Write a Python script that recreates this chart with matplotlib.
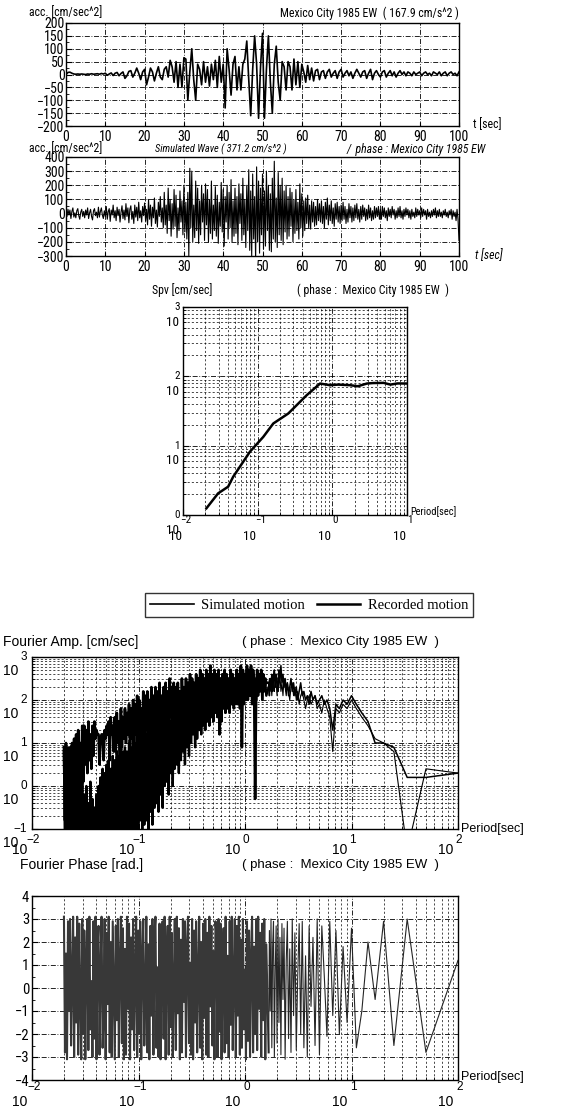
import numpy as np
import matplotlib
matplotlib.use("Agg")
import matplotlib.pyplot as plt
from matplotlib import font_manager as fm
from matplotlib.lines import Line2D
from matplotlib.ticker import LogLocator, NullFormatter, MultipleLocator

# ------------------------------------------------------------------ data
# recorded acceleration, Mexico City 1985 EW  (sampled every 0.5 s, cm/s^2)
acc_recorded = [
    0, 8, 9, 5, 2, 1, 2, 1, 2, 1,
    0, 2, 1, 3, 1, 2, 3, 1, 4, 2,
    5, -3, 2, 6, -4, 5, 8, -5, 4, 10,
    -15, -5, 12, 15, -10, 5, 25, 5, -20, 10,
    20, -40, -10, 25, 10, -25, 5, 30, -10, -20,
    20, 30, -10, 55, 30, -30, 50, -50, 40, -50,
    65, 60, -100, 10, 100, -20, -100, 40, 20, -40,
    50, -30, 30, -45, 40, -20, 55, -50, 70, -30,
    40, -130, 100, 20, -80, 40, 70, -60, 30, -60,
    40, 60, 130, -20, -160, 20, 150, 40, -170, 30,
    160, -170, 20, 150, -30, -150, 40, 110, -30, -100,
    50, 30, -60, 50, 30, -60, 60, -40, 50, -50,
    40, 10, -30, 35, -20, 25, -25, 15, 20, -20,
    10, 15, -15, 10, 20, -10, 5, 15, -15, 10,
    20, -10, 5, 15, -5, 10, -15, 5, 20, 5,
    -10, 10, 15, -15, 5, 20, -20, 5, 15, 0,
    -10, 10, 15, -10, 5, 15, -5, 10, -10, 5,
    15, 0, 10, -5, 10, 5, -5, 10, 0, 5,
    10, -5, 5, 10, 0, 5, -5, 10, 5, 0,
    10, -5, 5, 10, -5, 5, 10, 0, 5, -5,
    10]

# simulated wave (sampled every 0.25 s, cm/s^2)
acc_simulated = [
    10, -20, 30, -10, 25, -35, 15, 40, -25, 5, -30, 20, 35, -15, -40, 10, 30, -20, 15, -30,
    25, -10, 40, -35, 5, 30, -20, -45, 20, 35, -15, 10, -30, 45, -25, 15, 40, -10, -35, 20,
    -20, 50, -40, 15, 35, -55, 25, -10, 60, -30, 20, -50, 45, -15, 30, -60, 10, 55, -35, 25,
    -45, 70, -20, 40, -65, 30, 55, -40, 15, -70, 60, -25, 45, -50, 80, -30, 20, -60, 50, -15,
    75, -55, 30, -80, 100, -40, 60, -90, 45, -30, 110, -70, 25, -95, 80, -20, 120, -60, 40, -100,
    150, -80, 60, -140, 180, -50, 100, -160, 70, -110, 170, -90, 130, -170, 40, -120, 160, -60, 90, -150,
    200, -130, 80, -180, 150, -300, 320, -100, 300, -200, 60, -170, 230, -120, 180, -210, 90, -150, 200, -60,
    140, -190, 210, -80, 170, -200, 100, -140, 230, -180, 60, -120, 190, -160, 130, -210, 80, -90, 220, -130,
    170, -230, 120, -60, 200, -180, 150, -100, 240, -200, 90, -160, 180, -140, 120, -220, 210, -70, 140, -190,
    250, -150, 100, -240, 200, -120, 310, -260, 160, -300, 280, -180, 120, -330, 330, -200, 230, -280, 180, -150,
    280, -250, 160, -230, 300, -120, 200, -260, 140, -270, 250, -180, 370, -200, 110, -240, 290, -150, 200, -190,
    250, -220, 160, -130, 200, -180, 120, -160, 180, -90, 150, -200, 100, -140, 170, -120, 80, -180, 210, -100,
    140, -160, 90, -120, 110, -70, 130, -100, 60, -110, 90, -60, 80, -90, 50, -80, 100, -50, 70, -60,
    90, -70, 50, -100, 80, -40, 110, -80, 60, -50, 90, -70, 40, -90, 70, -40, 80, -60, 50, -70,
    60, -50, 80, -40, 50, -70, 30, -60, 70, -30, 50, -60, 40, -50, 60, -30, 70, -40, 30, -60,
    50, -40, 60, -20, 40, -50, 30, -40, 60, -30, 40, -50, 20, -40, 50, -30, 40, -20, 50, -40,
    30, -40, 50, -20, 40, -30, 20, -50, 40, -20, 30, -30, 50, -10, 30, -40, 20, -30, 40, -20,
    50, -30, 20, -40, 30, -20, 40, -10, 30, -30, 20, -40, 30, -20, 10, -30, 40, -20, 30, -10,
    20, -30, 40, -20, 30, -10, 20, -40, 30, -20, 10, -30, 20, -20, 30, -10, 40, -30, 20, -20,
    30, -20, 10, -30, 20, -10, 30, -20, 10, -30, 20, -10, 30, -40, 20, -20, 10, -50, 30, -40,
    -190]

# velocity response spectrum
spv_period = [0.0206, 0.0295, 0.0402, 0.047, 0.0787, 0.119, 0.162, 0.257, 0.454,
              0.685, 0.933, 1.2, 1.73, 2.2, 2.9, 3.5, 4.86, 6.0, 7.5, 10.0]
spv_value = [1.25, 2.05, 2.56, 3.56, 8.17, 13.4, 20.9, 29.1, 53.5,
             78.7, 74.5, 76.0, 74.5, 72.0, 78.7, 80.0, 80.5, 76.0, 79.0, 78.7]

# Fourier amplitude, log10(cm/s) in tenths.
# dense part: 200 samples between log10(T) = -1.7 and 0.2
# sparse part: harmonics k = 60 ... 1 of a 100 s record (T = 100/k)
four_sim_dense = [
    9, -8, 10, -9, 8, -10, 9, -6, 10, -5,
    11, -2, 12, -3, 13, -4, 10, 2, 14, 1,
    14, 5, 13, 3, 15, 6, 12, 4, 14, 7,
    15, 11, 13, 12, 12, 5, 11, 12, 12, 6,
    13, 11, 14, 12, 15, 6, 16, 12, 14, 8,
    16, 8, 17, 10, 15, 7, 18, 9, 16, 11,
    18, 10, 17, 12, 19, 9, 18, 11, 20, 10,
    19, 12, 21, 10, 20, 13, 18, 11, 22, 12,
    21, 13, 22, 11, 20, 14, 23, 12, 21, 15,
    23, 13, 22, 15, 24, 14, 21, 16, 23, 13,
    24, 15, 22, 14, 25, 16, 23, 15, 24, 17,
    23, 16, 24, 17, 22, 15, 25, 18, 23, 16,
    25, 17, 24, 18, 26, 16, 25, 19, 24, 18,
    26, 18, 25, 19, 27, 17, 26, 20, 25, 18,
    27, 19, 26, 20, 28, 18, 26, 21, 27, 19,
    26, 20, 27, 12, 25, 21, 26, 20, 27, 21,
    26, 21, 25, 20, 27, 22, 26, 21, 25, 22,
    27, 21, 26, 22, 28, 9, 27, 23, 26, 21,
    28, 22, 27, 23, 28, 21, 27, 24, -3, 22,
    27, 23, 26, 24, 27, 22, 26, 23, 25, 24]
four_rec_dense = [
    8, -15, 5, -12, 9, -14, 3, -15, 7, -10,
    4, -15, 6, -13, 2, -15, 5, -11, 3, -15,
    -2, -15, 0, -14, -4, -15, 1, -12, -3, -15,
    -5, -15, -2, -13, 0, -15, 2, -14, 4, -15,
    3, -15, 5, -12, 6, -15, 4, -13, 7, -14,
    6, -13, 8, -15, 7, -11, 9, -14, 8, -12,
    9, -12, 8, -14, 10, -10, 9, -13, 11, -11,
    10, -10, 12, -12, 11, -8, 13, -11, 12, -9,
    13, -8, 12, -10, 14, -6, 13, -9, 15, -5,
    14, -4, 15, -6, 16, -2, 14, -5, 16, 0,
    16, 1, 17, -2, 15, 3, 18, 0, 17, 4,
    18, 5, 17, 3, 19, 6, 18, 8, 20, 5,
    19, 9, 20, 7, 21, 10, 19, 12, 21, 9,
    22, 11, 20, 13, 22, 12, 23, 14, 21, 13,
    23, 15, 22, 14, 24, 16, 22, 15, 23, 17,
    24, 16, 23, 17, 25, 15, 24, 18, 23, 17,
    25, 18, 24, 17, 26, 19, 25, 18, 24, 19,
    25, 19, 26, 18, 24, 20, 25, 19, 26, 20,
    26, 20, 25, 21, 27, 19, 26, 22, 25, 20,
    26, 21, 25, 22, 26, 20, 25, 22, 24, 21]
four_sim_sparse = [
    24, 21, 25, 23, 26, 22, 25, 27, 23, 26,
    24, 22, 27, 25, 28, 24, 26, 23, 25, 22,
    24, 21, 23, 25, 22, 24, 21, 23, 20, 22,
    24, 21, 22, 20, 21, 19, 22, 20, 21, 19,
    20, 21, 19, 20, 18, 13, 19, 18, 20, 19,
    21, 19, 17, 15, 10, 10, 9, 2, 2, 3]
four_rec_sparse = [
    23, 25, 22, 24, 21, 25, 23, 22, 26, 24,
    21, 25, 23, 26, 22, 24, 21, 25, 23, 21,
    24, 22, 20, 23, 24, 21, 23, 20, 22, 19,
    21, 22, 20, 18, 20, 21, 19, 20, 21, 18,
    19, 17, 20, 18, 16, 8, 18, 17, 19, 18,
    20, 18, 16, 14, 11, 10, 8, -15, 4, 3]

# Fourier phase, radians in tenths (same sampling as the amplitude)
phase_dense = [
    31, -28, 15, -31, 29, -10, 30, -25, 5, 31,
    -30, 22, -15, 31, -29, 28, -5, -31, 30, -20,
    25, -31, 10, 30, -27, 31, -18, 3, -30, 29,
    -22, 31, -31, 18, 27, -29, 8, 31, -26, -12,
    30, -31, 24, -7, 31, -28, 20, -30, 29, 0,
    -31, 27, -14, 30, -30, 12, 31, -24, 26, -31,
    17, -29, 31, -9, 28, -31, 22, -18, 30, -27,
    6, 31, -30, 25, -20, 29, -31, 14, 30, -25,
    -4, 31, -28, 19, -31, 27, -12, 30, -29, 23,
    31, -26, 9, -30, 28, -31, 16, 29, -22, 31,
    -31, 13, 27, -29, 31, -17, 24, -30, 2, 30,
    -27, 31, -11, 26, -31, 21, -28, 30, -6, 29,
    -30, 18, 31, -24, 11, -29, 30, -31, 25, -15,
    29, -28, 7, 31, -26, 20, -31, 28, -13, 30,
    -29, 24, -30, 31, -8, 27, -25, 16, -31, 29,
    22, -30, 30, -19, 28, -31, 10, 26, -28, 31,
    -24, 14, -30, 29, -16, 31, -27, 5, 30, -30,
    27, -12, 31, -29, 21, -26, 30, -18, 8, -31,
    29, -23, 25, -30, 13, 31, -28, 18, -20, 30,
    -27, 31, -9, 24, -30, 28, -14, 30, -31, 19]
phase_sparse = [
    -28, 25, -10, 30, -26, 18, 29, -30, 8, 27,
    -24, 30, -15, 22, -29, 28, -5, 26, -31, 12,
    29, -22, 17, -28, 30, -12, 24, -27, 5, 28,
    -20, 29, -26, 14, -30, 27, -8, 22, -25, 30,
    -29, 27, 5, -21, 29, -12, 25, -20, 18, -15,
    26, -26, -10, 20, -5, 29, -25, 30, -28, 12]

# ------------------------------------------------------------------ style
names = {f.name for f in fm.fontManager.ttflist}
narrow_fams = ['Liberation Sans Narrow', 'Roboto Condensed', 'Open Sans Condensed',
               'DejaVu Sans Condensed', 'Arial Narrow']
NARROW = next((c for c in narrow_fams if c in names), None)
STRETCH = 'normal'
if NARROW is None:
    if any(f.name == 'DejaVu Sans' and str(f.stretch) in ('condensed', 'semi-condensed', '75', '87')
           for f in fm.fontManager.ttflist):
        NARROW, STRETCH = 'DejaVu Sans', 'condensed'
    else:
        NARROW = 'Liberation Sans'
SANS = 'Liberation Sans'
SERIF = 'Liberation Serif'
plt.rcParams['font.family'] = [NARROW, 'DejaVu Sans']
plt.rcParams['font.stretch'] = STRETCH
plt.rcParams['axes.linewidth'] = 1.0

W, H = 585, 1115
fig = plt.figure(figsize=(W / 100, H / 100), dpi=100)


def ax_px(l, t, r, b):
    return fig.add_axes([l / W, 1 - b / H, (r - l) / W, (b - t) / H])


def T(x, y, s, **kw):
    kw.setdefault('va', 'center')
    kw.setdefault('ha', 'left')
    fig.text(x / W, 1 - y / H, s, **kw)


MAJ = (0, (6, 2, 1, 2))
MIN = (0, (3, 3))


def time_axes(ax, ylo, yhi, ystep):
    ax.set_xlim(0, 100)
    ax.set_ylim(ylo, yhi)
    ax.set_xticks(np.arange(0, 101, 10))
    ax.set_yticks(np.arange(ylo, yhi + 1, ystep))
    ax.yaxis.set_minor_locator(MultipleLocator(ystep / 2))
    ax.grid(True, which='major', color='k', lw=0.6, linestyle=MAJ)
    ax.tick_params(axis='y', which='major', direction='in', length=4, pad=1, labelsize=10)
    ax.tick_params(axis='y', which='minor', direction='in', length=2)
    ax.tick_params(axis='x', which='major', direction='in', length=3, pad=3, labelsize=10)


# ---------------- panel 1 : recorded acceleration
ax1 = ax_px(66, 23, 459, 126)
t_rec = np.arange(len(acc_recorded)) * 0.5
ax1.plot(t_rec, acc_recorded, color='k', lw=1.2)
time_axes(ax1, -200, 200, 50)
T(29, 13, 'acc. [cm/sec^2]', fontsize=8.5)
T(459, 13, 'Mexico City 1985 EW  ( 167.9 cm/s^2 )', ha='right', fontsize=8.5)
T(473, 125, 't [sec]', fontsize=8.5)

# ---------------- panel 2 : simulated acceleration
ax2 = ax_px(66, 157, 459, 256)
t_sim = np.linspace(0, 100, len(acc_simulated))
ax2.plot(t_sim, acc_simulated, color='k', lw=0.8)
time_axes(ax2, -300, 400, 100)
T(29, 149, 'acc. [cm/sec^2]', fontsize=8.5)
T(155, 149, 'Simulated Wave ( 371.2 cm/s^2 )', fontsize=7.5, style='italic')
T(347, 149, '/  phase : Mexico City 1985 EW', fontsize=8.5, style='italic')
T(475, 256, 't [sec]', fontsize=8.5, style='italic')


def log_grid(ax, xaxis_log=True, yaxis_log=True):
    if xaxis_log:
        ax.xaxis.set_major_locator(LogLocator(base=10, numticks=20))
        ax.xaxis.set_minor_locator(LogLocator(base=10, subs=np.arange(2, 10), numticks=20))
        ax.xaxis.set_major_formatter(NullFormatter())
        ax.xaxis.set_minor_formatter(NullFormatter())
        ax.grid(True, axis='x', which='major', color='k', lw=0.6, linestyle=MAJ)
        ax.grid(True, axis='x', which='minor', color='k', lw=0.5, linestyle=MIN)
    if yaxis_log:
        ax.yaxis.set_major_locator(LogLocator(base=10, numticks=20))
        ax.yaxis.set_minor_locator(LogLocator(base=10, subs=np.arange(2, 10), numticks=20))
        ax.yaxis.set_major_formatter(NullFormatter())
        ax.yaxis.set_minor_formatter(NullFormatter())
        ax.grid(True, axis='y', which='major', color='k', lw=0.6, linestyle=MAJ)
        ax.grid(True, axis='y', which='minor', color='k', lw=0.5, linestyle=MIN)
    ax.tick_params(which='major', direction='in', length=4)
    ax.tick_params(which='minor', direction='in', length=2)


def xlabels_pow(ax, exps, e_dx, e_dy, t_dx, t_dy, fs_e=8, fs_t=9.5, fam=None):
    kw = {} if fam is None else {'family': fam}
    for e in exps:
        s = str(e).replace('-', '\u2212')
        ax.annotate(s, xy=(10.0 ** e, 0), xycoords=('data', 'axes fraction'),
                    xytext=(e_dx, -e_dy), textcoords='offset pixels',
                    ha='center', va='center', fontsize=fs_e, **kw)
        ax.annotate('10', xy=(10.0 ** e, 0), xycoords=('data', 'axes fraction'),
                    xytext=(t_dx, -t_dy), textcoords='offset pixels',
                    ha='center', va='center', fontsize=fs_t, **kw)


def ylabels_pow(ax, exps, e_dx, t_dx, t_dy, fs_e=8, fs_t=9.5, fam=None):
    kw = {} if fam is None else {'family': fam}
    for e in exps:
        s = str(e).replace('-', '\u2212')
        ax.annotate(s, xy=(0, 10.0 ** e), xycoords=('axes fraction', 'data'),
                    xytext=(-e_dx, 0), textcoords='offset pixels',
                    ha='right', va='center', fontsize=fs_e, **kw)
        ax.annotate('10', xy=(0, 10.0 ** e), xycoords=('axes fraction', 'data'),
                    xytext=(-t_dx, -t_dy), textcoords='offset pixels',
                    ha='right', va='center', fontsize=fs_t, **kw)


# ---------------- panel 3 : velocity response spectrum
ax3 = ax_px(183, 307, 407, 515)
ax3.set_xscale('log')
ax3.set_yscale('log')
ax3.plot(spv_period, spv_value, color='k', lw=1.8)
ax3.set_xlim(1e-2, 1e1)
ax3.set_ylim(1e0, 1e3)
log_grid(ax3)
xlabels_pow(ax3, [-2, -1, 0, 1], 3, 5, -8, 22)
ylabels_pow(ax3, [0, 1, 2, 3], 3, 4, 15)
ax3.annotate('Period[sec]', xy=(1, 0), xycoords='axes fraction', xytext=(3, 3),
             textcoords='offset pixels', ha='left', va='center', fontsize=7.5)
T(152, 290, 'Spv [cm/sec]', fontsize=8.5)
T(297, 290, '( phase :  Mexico City 1985 EW  )', fontsize=8.5)

# ---------------- panel 4 : Fourier amplitude
n_dense = len(four_sim_dense)
logT = np.concatenate([np.linspace(-1.7, 0.2, n_dense),
                       np.log10(100.0 / np.arange(len(four_sim_sparse), 0, -1))])
period = 10.0 ** logT
amp_sim = 10.0 ** (np.array(four_sim_dense + four_sim_sparse) / 10.0)
amp_rec = 10.0 ** (np.array(four_rec_dense + four_rec_sparse) / 10.0)

ax4 = ax_px(32, 657, 458, 829)
ax4.set_xscale('log')
ax4.set_yscale('log')
# dense short-period band drawn heavier (thousands of harmonics in the original)
ax4.plot(period[:n_dense + 1], amp_sim[:n_dense + 1], color='k', lw=1.9)
ax4.plot(period[:n_dense + 1], amp_rec[:n_dense + 1], color='k', lw=1.7)
ax4.plot(period[n_dense:], amp_sim[n_dense:], color='k', lw=1.1)
ax4.plot(period[n_dense:], amp_rec[n_dense:], color='k', lw=0.8)
ax4.set_xlim(1e-2, 1e2)
ax4.set_ylim(1e-1, 1e3)
log_grid(ax4)
xlabels_pow(ax4, [-2, -1, 0, 1, 2], 1, 11, -12, 21, fs_e=8.5, fs_t=10, fam=SANS)
ylabels_pow(ax4, [-1, 0, 1, 2, 3], 5, 14, 14, fs_e=8.5, fs_t=10, fam=SANS)
ax4.annotate('Period[sec]', xy=(1, 0), xycoords='axes fraction', xytext=(3, 0),
             textcoords='offset pixels', ha='left', va='center', fontsize=9, family=SANS)
T(3, 642, 'Fourier Amp. [cm/sec]', fontsize=10, family=SANS)
T(242, 642, '( phase :  Mexico City 1985 EW  )', fontsize=9.5, family=SANS)

# ---------------- panel 5 : Fourier phase
phase = np.array(phase_dense + phase_sparse) / 10.0
ax5 = ax_px(32, 896, 458, 1080)
ax5.set_xscale('log')
ax5.plot(period[:n_dense + 1], phase[:n_dense + 1], color='0.22', lw=1.5)
ax5.plot(period[n_dense:], phase[n_dense:], color='0.15', lw=0.8)
ax5.set_xlim(1e-2, 1e2)
ax5.set_ylim(-4, 4)
log_grid(ax5, yaxis_log=False)
ax5.set_yticks(np.arange(-4, 5, 1))
ax5.yaxis.set_minor_locator(MultipleLocator(0.5))
ax5.grid(True, axis='y', which='major', color='k', lw=0.6, linestyle=MAJ)
ax5.tick_params(axis='y', which='major', labelsize=10.5, pad=2)
xlabels_pow(ax5, [-2, -1, 0, 1, 2], 2, 7, -12, 22, fs_e=8.5, fs_t=10, fam=SANS)
ax5.annotate('Period[sec]', xy=(1, 0), xycoords='axes fraction', xytext=(3, 3),
             textcoords='offset pixels', ha='left', va='center', fontsize=9, family=SANS)
T(20, 865, 'Fourier Phase [rad.]', fontsize=10, family=SANS)
T(242, 865, '( phase :  Mexico City 1985 EW  )', fontsize=9.5, family=SANS)

# ---------------- legend
handles = [Line2D([], [], color='k', lw=1.2), Line2D([], [], color='k', lw=1.8)]
leg = fig.legend(handles, ['Simulated motion', 'Recorded motion'], ncol=2,
                 loc='center', bbox_to_anchor=(309 / W, 1 - 605 / H),
                 prop={'family': SERIF, 'size': 10.5}, frameon=True, fancybox=False,
                 edgecolor='k', handlelength=3.0, columnspacing=0.8,
                 borderpad=0.35, handletextpad=0.5)
leg.get_frame().set_linewidth(1.0)

fig.savefig('out.png', dpi=100)
